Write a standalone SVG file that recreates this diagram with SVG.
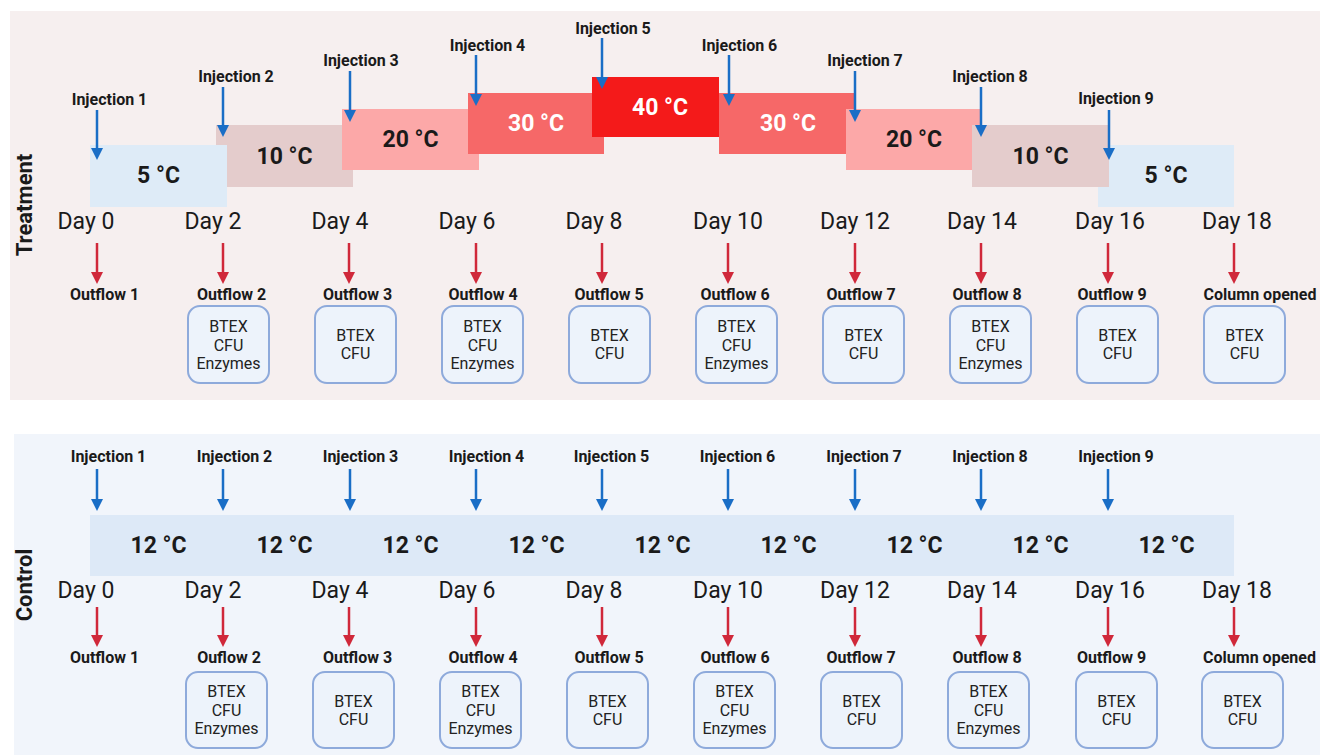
<svg xmlns="http://www.w3.org/2000/svg" width="1320" height="755" viewBox="0 0 1320 755">
<style>
  text { font-family: Roboto, "Liberation Sans", sans-serif; fill: #1a1a1a; }
  .inj { font-size: 16px; font-weight: 700; text-anchor: middle; }
  .out { font-size: 16px; font-weight: 700; text-anchor: middle; }
  .day { font-size: 23px; font-weight: 400; text-anchor: middle; }
  .tmp { font-size: 23px; font-weight: 700; text-anchor: middle; }
  .tmpw { font-size: 23px; font-weight: 700; text-anchor: middle; fill: #ffffff; }
  .side { font-size: 22px; font-weight: 700; text-anchor: middle; }
  .bx { fill: #edf3fb; stroke: #8eaadb; stroke-width: 2; }
  .bt { font-size: 16px; font-weight: 400; text-anchor: middle; fill: #222; }
  .ba { stroke: #1a6ec6; stroke-width: 2.5; fill: none; marker-end: url(#mb); }
  .ra { stroke: #d0283a; stroke-width: 2.5; fill: none; marker-end: url(#mr); }
</style>
<defs>
  <marker id="mb" viewBox="0 0 12 12" refX="4" refY="6" markerWidth="12" markerHeight="12" markerUnits="userSpaceOnUse" orient="auto">
    <path d="M0,0 L12,6 L0,12 z" fill="#1a6ec6"/>
  </marker>
  <marker id="mr" viewBox="0 0 12 12" refX="4" refY="6" markerWidth="12" markerHeight="12" markerUnits="userSpaceOnUse" orient="auto">
    <path d="M0,0 L12,6 L0,12 z" fill="#d0283a"/>
  </marker>
</defs>

<!-- panels -->
<rect id="treatment-panel" x="10" y="11" width="1310" height="389" fill="#f6efef"/>
<rect id="control-panel" x="14" y="434" width="1306" height="321" fill="#f1f5fb"/>

<text class="side" transform="translate(32,205) rotate(-90)">Treatment</text>
<text class="side" transform="translate(32,585) rotate(-90)">Control</text>

<!-- treatment temperature blocks -->
<g id="t-temps">
  <g id="t10L"><rect x="216" y="125" width="137" height="62" fill="#e4cccc"/><text class="tmp" x="284.5" y="164">10 °C</text></g>
  <g id="t5L"><rect x="90" y="145" width="137" height="62" fill="#deebf7"/><text class="tmp" x="158.5" y="183">5 °C</text></g>
  <g id="t20L"><rect x="342" y="109" width="137" height="61" fill="#fca8a8"/><text class="tmp" x="410.5" y="147">20 °C</text></g>
  <g id="t30L"><rect x="468" y="93" width="136" height="61" fill="#f66868"/><text class="tmpw" x="536" y="131">30 °C</text></g>
  <g id="t40"><rect x="592" y="77" width="127" height="60" fill="#f41a1a"/><text class="tmpw" x="660" y="115">40 °C</text></g>
  <g id="t30R"><rect x="719" y="93" width="136" height="61" fill="#f66868"/><text class="tmpw" x="788" y="131">30 °C</text></g>
  <g id="t20R"><rect x="846" y="109" width="136" height="61" fill="#fca8a8"/><text class="tmp" x="914" y="147">20 °C</text></g>
  <g id="t5R"><rect x="1098" y="145" width="136" height="62" fill="#deebf7"/><text class="tmp" x="1166" y="183">5 °C</text></g>
  <g id="t10R"><rect x="972" y="125" width="137" height="62" fill="#e4cccc"/><text class="tmp" x="1040.5" y="164">10 °C</text></g>
</g>

<!-- treatment injection labels -->
<g id="t-injections">
  <text class="inj" x="109.5" y="105">Injection 1</text>
  <text class="inj" x="236" y="82">Injection 2</text>
  <text class="inj" x="361" y="66">Injection 3</text>
  <text class="inj" x="487.5" y="51">Injection 4</text>
  <text class="inj" x="613" y="34">Injection 5</text>
  <text class="inj" x="739.5" y="51">Injection 6</text>
  <text class="inj" x="865" y="66">Injection 7</text>
  <text class="inj" x="990" y="82">Injection 8</text>
  <text class="inj" x="1116" y="104">Injection 9</text>
</g>

<!-- days treatment -->
<g id="t-days">
  <text class="day" x="86" y="229">Day 0</text>
  <text class="day" x="213" y="229">Day 2</text>
  <text class="day" x="340" y="229">Day 4</text>
  <text class="day" x="467" y="229">Day 6</text>
  <text class="day" x="594" y="229">Day 8</text>
  <text class="day" x="728" y="229">Day 10</text>
  <text class="day" x="855" y="229">Day 12</text>
  <text class="day" x="982" y="229">Day 14</text>
  <text class="day" x="1110" y="229">Day 16</text>
  <text class="day" x="1237" y="229">Day 18</text>
</g>

<!-- outflow labels treatment -->
<g id="t-outflows">
  <text class="out" x="104.5" y="300">Outflow 1</text>
  <text class="out" x="231.5" y="300">Outflow 2</text>
  <text class="out" x="357.5" y="300">Outflow 3</text>
  <text class="out" x="483" y="300">Outflow 4</text>
  <text class="out" x="609" y="300">Outflow 5</text>
  <text class="out" x="735" y="300">Outflow 6</text>
  <text class="out" x="861" y="300">Outflow 7</text>
  <text class="out" x="987" y="300">Outflow 8</text>
  <text class="out" x="1112" y="300">Outflow 9</text>
  <text class="out" x="1260" y="300">Column opened</text>
</g>

<!-- treatment boxes -->
<g id="t-box2"><rect class="bx" x="188" y="306" width="81" height="77" rx="12"/><text class="bt" x="228.5" y="332">BTEX</text><text class="bt" x="228.5" y="350.5">CFU</text><text class="bt" x="228.5" y="369">Enzymes</text></g>
<g id="t-box3"><rect class="bx" x="315" y="306" width="81" height="77" rx="12"/><text class="bt" x="355.5" y="341">BTEX</text><text class="bt" x="355.5" y="359">CFU</text></g>
<g id="t-box4"><rect class="bx" x="442" y="306" width="81" height="77" rx="12"/><text class="bt" x="482.5" y="332">BTEX</text><text class="bt" x="482.5" y="350.5">CFU</text><text class="bt" x="482.5" y="369">Enzymes</text></g>
<g id="t-box5"><rect class="bx" x="569" y="306" width="81" height="77" rx="12"/><text class="bt" x="609.5" y="341">BTEX</text><text class="bt" x="609.5" y="359">CFU</text></g>
<g id="t-box6"><rect class="bx" x="696" y="306" width="81" height="77" rx="12"/><text class="bt" x="736.5" y="332">BTEX</text><text class="bt" x="736.5" y="350.5">CFU</text><text class="bt" x="736.5" y="369">Enzymes</text></g>
<g id="t-box7"><rect class="bx" x="823" y="306" width="81" height="77" rx="12"/><text class="bt" x="863.5" y="341">BTEX</text><text class="bt" x="863.5" y="359">CFU</text></g>
<g id="t-box8"><rect class="bx" x="950" y="306" width="81" height="77" rx="12"/><text class="bt" x="990.5" y="332">BTEX</text><text class="bt" x="990.5" y="350.5">CFU</text><text class="bt" x="990.5" y="369">Enzymes</text></g>
<g id="t-box9"><rect class="bx" x="1077" y="306" width="81" height="77" rx="12"/><text class="bt" x="1117.5" y="341">BTEX</text><text class="bt" x="1117.5" y="359">CFU</text></g>
<g id="t-box10"><rect class="bx" x="1204" y="306" width="81" height="77" rx="12"/><text class="bt" x="1244.5" y="341">BTEX</text><text class="bt" x="1244.5" y="359">CFU</text></g>

<!-- control -->
<g id="c-temp">
  <rect x="90" y="515" width="1144" height="61" fill="#dde9f7"/>
  <text class="tmp" x="158.5" y="553">12 °C</text>
  <text class="tmp" x="284.5" y="553">12 °C</text>
  <text class="tmp" x="410.5" y="553">12 °C</text>
  <text class="tmp" x="536.5" y="553">12 °C</text>
  <text class="tmp" x="662.5" y="553">12 °C</text>
  <text class="tmp" x="788.5" y="553">12 °C</text>
  <text class="tmp" x="914.5" y="553">12 °C</text>
  <text class="tmp" x="1040.5" y="553">12 °C</text>
  <text class="tmp" x="1166.5" y="553">12 °C</text>
</g>

<g id="c-injections">
  <text class="inj" x="108.5" y="462">Injection 1</text>
  <text class="inj" x="234.5" y="462">Injection 2</text>
  <text class="inj" x="360.5" y="462">Injection 3</text>
  <text class="inj" x="486.5" y="462">Injection 4</text>
  <text class="inj" x="611.5" y="462">Injection 5</text>
  <text class="inj" x="737.5" y="462">Injection 6</text>
  <text class="inj" x="864" y="462">Injection 7</text>
  <text class="inj" x="990" y="462">Injection 8</text>
  <text class="inj" x="1116" y="462">Injection 9</text>
</g>

<g id="c-days">
  <text class="day" x="86" y="598">Day 0</text>
  <text class="day" x="213" y="598">Day 2</text>
  <text class="day" x="340" y="598">Day 4</text>
  <text class="day" x="467" y="598">Day 6</text>
  <text class="day" x="594" y="598">Day 8</text>
  <text class="day" x="728" y="598">Day 10</text>
  <text class="day" x="855" y="598">Day 12</text>
  <text class="day" x="982" y="598">Day 14</text>
  <text class="day" x="1110" y="598">Day 16</text>
  <text class="day" x="1237" y="598">Day 18</text>
</g>

<g id="c-outflows">
  <text class="out" x="104.5" y="663">Outflow 1</text>
  <text class="out" x="229" y="663">Ouflow 2</text>
  <text class="out" x="357.5" y="663">Outflow 3</text>
  <text class="out" x="483" y="663">Outflow 4</text>
  <text class="out" x="609" y="663">Outflow 5</text>
  <text class="out" x="735" y="663">Outflow 6</text>
  <text class="out" x="861" y="663">Outflow 7</text>
  <text class="out" x="987" y="663">Outflow 8</text>
  <text class="out" x="1111.5" y="663">Outflow 9</text>
  <text class="out" x="1259.5" y="663">Column opened</text>
</g>

<g id="c-box2"><rect class="bx" x="186" y="672" width="81" height="76" rx="12"/><text class="bt" x="226.5" y="697">BTEX</text><text class="bt" x="226.5" y="715.5">CFU</text><text class="bt" x="226.5" y="734">Enzymes</text></g>
<g id="c-box3"><rect class="bx" x="313" y="672" width="81" height="76" rx="12"/><text class="bt" x="353.5" y="707">BTEX</text><text class="bt" x="353.5" y="725">CFU</text></g>
<g id="c-box4"><rect class="bx" x="440" y="672" width="81" height="76" rx="12"/><text class="bt" x="480.5" y="697">BTEX</text><text class="bt" x="480.5" y="715.5">CFU</text><text class="bt" x="480.5" y="734">Enzymes</text></g>
<g id="c-box5"><rect class="bx" x="567" y="672" width="81" height="76" rx="12"/><text class="bt" x="607.5" y="707">BTEX</text><text class="bt" x="607.5" y="725">CFU</text></g>
<g id="c-box6"><rect class="bx" x="694" y="672" width="81" height="76" rx="12"/><text class="bt" x="734.5" y="697">BTEX</text><text class="bt" x="734.5" y="715.5">CFU</text><text class="bt" x="734.5" y="734">Enzymes</text></g>
<g id="c-box7"><rect class="bx" x="821" y="672" width="81" height="76" rx="12"/><text class="bt" x="861.5" y="707">BTEX</text><text class="bt" x="861.5" y="725">CFU</text></g>
<g id="c-box8"><rect class="bx" x="948" y="672" width="81" height="76" rx="12"/><text class="bt" x="988.5" y="697">BTEX</text><text class="bt" x="988.5" y="715.5">CFU</text><text class="bt" x="988.5" y="734">Enzymes</text></g>
<g id="c-box9"><rect class="bx" x="1076" y="672" width="81" height="76" rx="12"/><text class="bt" x="1116.5" y="707">BTEX</text><text class="bt" x="1116.5" y="725">CFU</text></g>
<g id="c-box10"><rect class="bx" x="1202" y="672" width="81" height="76" rx="12"/><text class="bt" x="1242.5" y="707">BTEX</text><text class="bt" x="1242.5" y="725">CFU</text></g>

<!-- connectors -->
<g id="connectors">
  <path class="ba" d="M97,110 V152"/>
  <path class="ba" d="M223,87 V129"/>
  <path class="ba" d="M350,71 V114"/>
  <path class="ba" d="M476,55 V98"/>
  <path class="ba" d="M602,38 V81"/>
  <path class="ba" d="M729,55 V98"/>
  <path class="ba" d="M855,71 V114"/>
  <path class="ba" d="M981,87 V129"/>
  <path class="ba" d="M1109,110 V152"/>

  <path class="ra" d="M97,243 V276"/>
  <path class="ra" d="M223,243 V276"/>
  <path class="ra" d="M349,243 V276"/>
  <path class="ra" d="M476,243 V276"/>
  <path class="ra" d="M602,243 V276"/>
  <path class="ra" d="M728,243 V276"/>
  <path class="ra" d="M855,243 V276"/>
  <path class="ra" d="M981,243 V276"/>
  <path class="ra" d="M1108,243 V276"/>
  <path class="ra" d="M1234,243 V276"/>

  <path class="ba" d="M97,469 V503"/>
  <path class="ba" d="M223,469 V503"/>
  <path class="ba" d="M350,469 V503"/>
  <path class="ba" d="M476,469 V503"/>
  <path class="ba" d="M602,469 V503"/>
  <path class="ba" d="M728,469 V503"/>
  <path class="ba" d="M855,469 V503"/>
  <path class="ba" d="M981,469 V503"/>
  <path class="ba" d="M1108,469 V503"/>

  <path class="ra" d="M97,607 V639"/>
  <path class="ra" d="M223,607 V639"/>
  <path class="ra" d="M349,607 V639"/>
  <path class="ra" d="M476,607 V639"/>
  <path class="ra" d="M602,607 V639"/>
  <path class="ra" d="M728,607 V639"/>
  <path class="ra" d="M855,607 V639"/>
  <path class="ra" d="M981,607 V639"/>
  <path class="ra" d="M1108,607 V639"/>
  <path class="ra" d="M1234,607 V639"/>
</g>
</svg>
